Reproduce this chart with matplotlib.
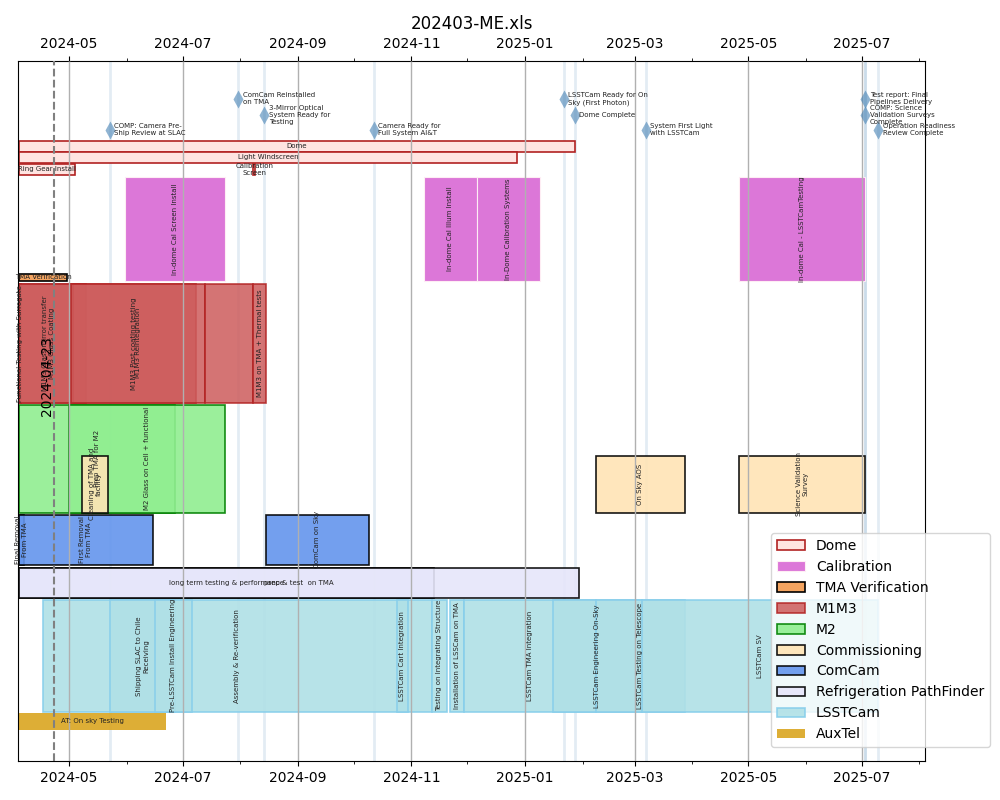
import matplotlib
matplotlib.use("Agg")
import matplotlib.pyplot as plt
import matplotlib.dates as mdates
import matplotlib.patches as mpatches
import pandas as pd

# milestones
ms_names = ["COMP: Camera Pre-\nShip Review at SLAC", "ComCam Reinstalled\non TMA",
            "3-Mirror Optical\nSystem Ready for\nTesting", "Camera Ready for\nFull System AI&T",
            "LSSTCam Ready for On\nSky (First Photon)", "Dome Complete",
            "System First Light\nwith LSSTCam", "Test report: Final\nPipelines Delivery",
            "COMP: Science\nValidation Surveys\nComplete", "Operation Readiness\nReview Complete"]
ms_dates = ["2024-05-23", "2024-07-31", "2024-08-14", "2024-10-12", "2025-01-22",
            "2025-01-28", "2025-03-07", "2025-07-03", "2025-07-03", "2025-07-10"]

today = "2024-04-23"

# tasks, per group
dome_names = ["Dome", "Light Windscreen", "Ring Gear Install", "Calibration\nScreen"]
dome_start = ["2024-04-04", "2024-04-04", "2024-04-04", "2024-08-08"]
dome_end = ["2025-01-28", "2024-12-28", "2024-05-04", "2024-08-09"]

cal_names = ["In-dome Cal Screen Install", "In-dome Cal Illum Install",
             "In-Dome Calibration Systems", "In-dome Cal - LSSTCamTesting"]
cal_start = ["2024-05-31", "2024-11-08", "2024-12-06", "2025-04-26"]
cal_end = ["2024-07-24", "2024-12-06", "2025-01-09", "2025-07-03"]

tma_names = ["TMA Verification"]
tma_start = ["2024-04-04"]
tma_end = ["2024-04-30"]

m1m3_names = ["Functional Testing with Surrogate", "M1M3 Glass mirror transfer",
              "M1M3 Glass Coating", "M1M3 Post coating testing", "M1M3 Reintegration",
              "", "M1M3 on TMA + Thermal tests"]
m1m3_start = ["2024-04-04", "2024-04-04", "2024-04-04", "2024-05-03", "2024-05-02",
              "2024-07-13", "2024-08-08"]
m1m3_end = ["2024-04-05", "2024-05-02", "2024-05-10", "2024-07-08", "2024-07-13",
            "2024-08-08", "2024-08-15"]

m2_names = ["Prep TMA for M2", "M2 Glass on Cell + functional"]
m2_start = ["2024-04-04", "2024-05-01"]
m2_end = ["2024-06-27", "2024-07-24"]

comm_names = ["Cleaning of TMA and\nfacility", "On Sky AOS", "Science Validation\nSurvey"]
comm_start = ["2024-05-08", "2025-02-08", "2025-04-26"]
comm_end = ["2024-05-22", "2025-03-28", "2025-07-03"]

comcam_names = ["Final Removal\nFrom TMA", "First Removal\nFrom TMA", "ComCam on Sky"]
comcam_start = ["2024-04-04", "2024-04-04", "2024-08-15"]
comcam_end = ["2024-04-07", "2024-06-15", "2024-10-09"]

refrig_names = ["long term testing & performance", "prep & test  on TMA"]
refrig_start = ["2024-04-04", "2024-04-04"]
refrig_end = ["2024-11-13", "2025-01-30"]

lsst_names = ["Assembly & Re-verification", "Shipping SLAC to Chile\nReceiving",
              "Pre-LSSTCam Install Engineering", "LSSTCam Cart Integration",
              "Testing on Integrating Structure", "Installation of LSSCam on TMA",
              "LSSTCam TMA Integration", "LSSTCam Engineering On-Sky",
              "LSSTCam Testing on Telescope", "LSSTCam SV"]
lsst_start = ["2024-04-17", "2024-05-23", "2024-06-16", "2024-10-24", "2024-11-12",
              "2024-11-22", "2024-11-29", "2025-01-16", "2025-02-08", "2025-03-05"]
lsst_end = ["2024-11-12", "2024-06-27", "2024-07-06", "2024-10-30", "2024-11-20",
            "2024-11-29", "2025-02-08", "2025-03-05", "2025-03-28", "2025-07-10"]

aux_names = ["AT: On sky Testing"]
aux_start = ["2024-04-04"]
aux_end = ["2024-06-22"]

groups = [
    ("Dome", dome_names, dome_start, dome_end),
    ("Calibration", cal_names, cal_start, cal_end),
    ("TMA Verification", tma_names, tma_start, tma_end),
    ("M1M3", m1m3_names, m1m3_start, m1m3_end),
    ("M2", m2_names, m2_start, m2_end),
    ("Commissioning", comm_names, comm_start, comm_end),
    ("ComCam", comcam_names, comcam_start, comcam_end),
    ("Refrigeration PathFinder", refrig_names, refrig_start, refrig_end),
    ("LSSTCam", lsst_names, lsst_start, lsst_end),
    ("AuxTel", aux_names, aux_start, aux_end),
]

# layout: lane (top, height) per task, rows counted down from the top of the axes
lanes = {
    "Dome": [(80, 11), (91, 11), (103, 11), (103, 11)],
    "Calibration": [(116, 104)] * 4,
    "TMA Verification": [(213, 7)],
    "M1M3": [(223, 119)] * 7,
    "M2": [(344, 108)] * 2,
    "Commissioning": [(395, 57)] * 3,
    "ComCam": [(454, 50)] * 3,
    "Refrigeration PathFinder": [(507, 30)] * 2,
    "LSSTCam": [(539, 112)] * 10,
    "AuxTel": [(652, 17)],
}
ms_levels = [38, 54, 69]

styles = {
    "Dome": dict(facecolor="mistyrose", edgecolor="firebrick", linewidth=1.2),
    "Calibration": dict(facecolor="orchid", edgecolor="lavenderblush", linewidth=0.8, alpha=0.95),
    "TMA Verification": dict(facecolor="sandybrown", edgecolor="black", linewidth=1.2),
    "M1M3": dict(facecolor="indianred", edgecolor="firebrick", linewidth=1.2, alpha=0.85),
    "M2": dict(facecolor="lightgreen", edgecolor="green", linewidth=1.2, alpha=0.9),
    "Commissioning": dict(facecolor="moccasin", edgecolor="black", linewidth=1.2, alpha=0.9),
    "ComCam": dict(facecolor="cornflowerblue", edgecolor="black", linewidth=1.2, alpha=0.9),
    "Refrigeration PathFinder": dict(facecolor="lavender", edgecolor="black", linewidth=1.2, alpha=0.9),
    "LSSTCam": dict(facecolor="powderblue", edgecolor="skyblue", linewidth=1.2, alpha=0.9),
    "AuxTel": dict(facecolor="goldenrod", edgecolor="none", alpha=0.9),
}

fig = plt.figure(figsize=(10, 8), dpi=100)
ax = fig.add_axes([0.018, 0.049, 0.907, 0.875])

labels = []
for grp, names, starts, ends in groups:
    for name, s, e, (top, h) in zip(names, starts, ends, lanes[grp]):
        x0 = mdates.date2num(pd.Timestamp(s))
        w = mdates.date2num(pd.Timestamp(e)) - x0
        ax.barh(top + h / 2, w, left=x0, height=h, zorder=1, **styles[grp])
        labels.append((x0 + w / 2, top + h / 2, name, 90 if h > 40 else 0))

for x, y, name, rot in labels:
    ax.text(x, y, name, rotation=rot, ha="center", va="center", fontsize=5,
            color="#222222", zorder=4)

# milestones
for i, (name, d) in enumerate(zip(ms_names, ms_dates)):
    xd = mdates.date2num(pd.Timestamp(d))
    y = ms_levels[(i + 2) % 3]
    ax.axvline(xd, color="steelblue", alpha=0.15, lw=2, zorder=0.5)
    ax.plot(xd, y, "d", color="steelblue", alpha=0.6, ms=9, mec="none", zorder=3)
    ax.annotate(name, (xd, y), xytext=(3, 0), textcoords="offset points",
                ha="left", va="center", fontsize=5, color="#222222", zorder=4)

# today line
xt = mdates.date2num(pd.Timestamp(today))
ax.axvline(xt, color="grey", ls="--", lw=1.5, zorder=3)
ax.annotate(today, (xt, 315), xytext=(0, 0), textcoords="offset points",
            rotation=90, ha="right", va="center", fontsize=10, zorder=4)

ax.set_xlim(mdates.date2num(pd.Timestamp("2024-04-03 14:00")),
            mdates.date2num(pd.Timestamp("2025-08-04")))
ax.set_ylim(700, 0)
ax.set_yticks([])
ax.xaxis.set_major_locator(mdates.MonthLocator(bymonth=[1, 3, 5, 7, 9, 11]))
ax.xaxis.set_minor_locator(mdates.MonthLocator())
ax.xaxis.set_major_formatter(mdates.DateFormatter("%Y-%m"))
ax.tick_params(axis="x", which="both", top=True, labeltop=True, labelsize=10)
ax.set_axisbelow(False)
ax.grid(axis="x", which="major", color="#b0b0b0", lw=1)
ax.set_title("202403-ME.xls", fontsize=12)

handles = [mpatches.Patch(label=g, **styles[g]) for g, *_ in groups]
ax.legend(handles=handles, loc="lower right", bbox_to_anchor=(1.079, 0.01), fontsize=10)

fig.savefig("out.png")
